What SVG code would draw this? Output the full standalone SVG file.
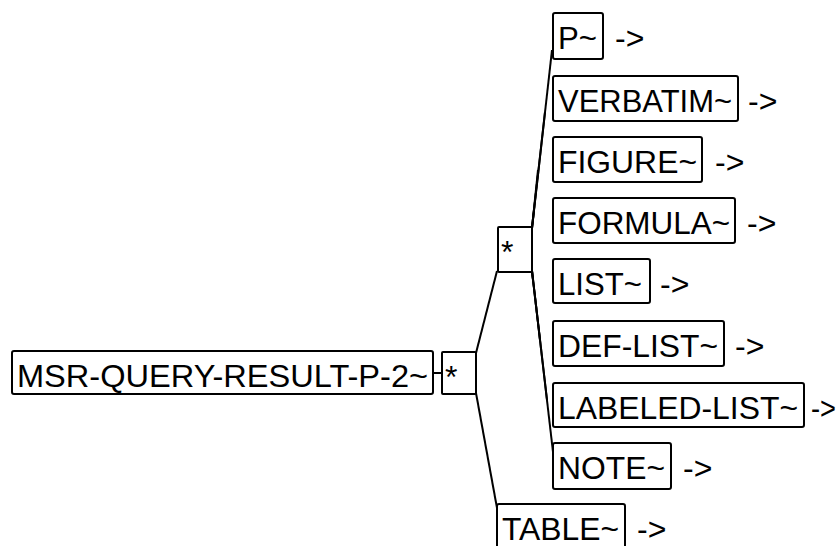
<svg xmlns="http://www.w3.org/2000/svg" width="839" height="546" viewBox="0 0 839 546">
<style>
.box{fill:#fff;stroke:#000;stroke-width:2}
.t{font-family:"Liberation Sans",Arial,sans-serif;font-size:32px;fill:#000}
.c{stroke:#000;stroke-width:2;fill:none}
</style>
<rect width="839" height="546" fill="#fff"/>
<g id="connectors">
<line class="c" x1="433" y1="373" x2="442" y2="373"/>
<line class="c" x1="476" y1="353" x2="497" y2="271"/>
<line class="c" x1="476" y1="393" x2="497" y2="508"/>
<line class="c" x1="532" y1="228" x2="552" y2="50"/>
<line class="c" x1="532" y1="228" x2="545" y2="112"/>
<line class="c" x1="532" y1="228" x2="538" y2="170"/>
<line class="c" x1="532" y1="228" x2="534" y2="210"/>
<line class="c" x1="532" y1="271" x2="533" y2="280"/>
<line class="c" x1="532" y1="271" x2="540" y2="340"/>
<line class="c" x1="532" y1="271" x2="547" y2="400"/>
<line class="c" x1="532" y1="271" x2="553" y2="452"/>
</g>
<g id="n-main"><rect class="box" x="12" y="351" width="421" height="43" rx="2"/><text class="t" x="17" y="387" textLength="411" lengthAdjust="spacingAndGlyphs">MSR-QUERY-RESULT-P-2~</text></g>
<g id="n-star1"><rect class="box" x="442" y="352" width="34" height="42" rx="1"/><text class="t" x="445" y="388">*</text></g>
<g id="n-star2"><rect class="box" x="498" y="227" width="34" height="45" rx="1"/><text class="t" x="501" y="263">*</text></g>
<g id="n-p"><rect class="box" x="553" y="13" width="50" height="46" rx="2"/><text class="t" x="558" y="49" textLength="39" lengthAdjust="spacingAndGlyphs">P~</text><text class="t" x="615" y="49">-&gt;</text></g>
<g id="n-verbatim"><rect class="box" x="553" y="76" width="185" height="45" rx="2"/><text class="t" x="558" y="112" textLength="174" lengthAdjust="spacingAndGlyphs">VERBATIM~</text><text class="t" x="748" y="112">-&gt;</text></g>
<g id="n-figure"><rect class="box" x="553" y="137" width="149" height="45" rx="2"/><text class="t" x="558" y="173" textLength="139" lengthAdjust="spacingAndGlyphs">FIGURE~</text><text class="t" x="715" y="173">-&gt;</text></g>
<g id="n-formula"><rect class="box" x="553" y="198" width="182" height="45" rx="2"/><text class="t" x="558" y="234" textLength="172" lengthAdjust="spacingAndGlyphs">FORMULA~</text><text class="t" x="747" y="234">-&gt;</text></g>
<g id="n-list"><rect class="box" x="553" y="259" width="97" height="44" rx="2"/><text class="t" x="558" y="295" textLength="84" lengthAdjust="spacingAndGlyphs">LIST~</text><text class="t" x="660" y="295">-&gt;</text></g>
<g id="n-deflist"><rect class="box" x="553" y="321" width="171" height="45" rx="2"/><text class="t" x="558" y="357" textLength="160" lengthAdjust="spacingAndGlyphs">DEF-LIST~</text><text class="t" x="735" y="357">-&gt;</text></g>
<g id="n-labeled"><rect class="box" x="553" y="383" width="251" height="44" rx="2"/><text class="t" x="558" y="419" textLength="240" lengthAdjust="spacingAndGlyphs">LABELED-LIST~</text><text class="t" x="811" y="419" textLength="25" lengthAdjust="spacingAndGlyphs">-&gt;</text></g>
<g id="n-note"><rect class="box" x="553" y="443" width="118" height="46" rx="2"/><text class="t" x="558" y="479" textLength="107" lengthAdjust="spacingAndGlyphs">NOTE~</text><text class="t" x="683" y="479">-&gt;</text></g>
<g id="n-table"><rect class="box" x="497" y="504" width="128" height="46" rx="2"/><text class="t" x="502" y="540" textLength="117" lengthAdjust="spacingAndGlyphs">TABLE~</text><text class="t" x="637" y="540">-&gt;</text></g>
</svg>
